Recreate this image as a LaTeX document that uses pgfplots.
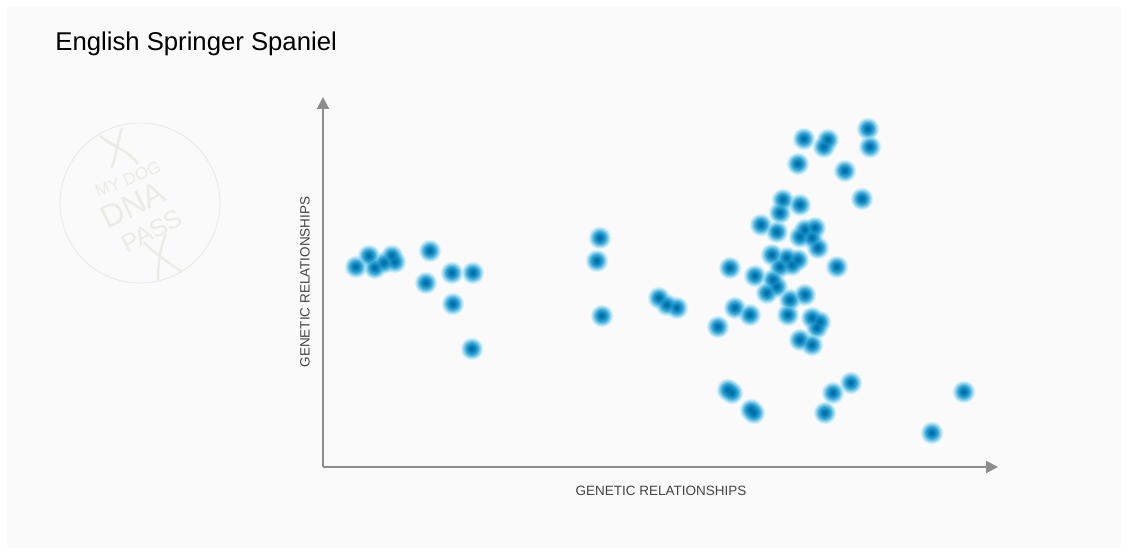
\documentclass[border=0pt]{standalone}
\usepackage{pgfplots}
\pgfplotsset{compat=1.18}
\usepackage{pgfplotstable}
\usepackage{fontspec}
\setmainfont{Liberation Sans}
\usetikzlibrary{arrows.meta}
\definecolor{bgc}{HTML}{FAFAFA}
\definecolor{wm}{HTML}{EBEBE6}
\definecolor{axc}{HTML}{8C8C8C}
\definecolor{lab}{HTML}{444444}
\definecolor{d1}{HTML}{C8ECF8}
\definecolor{d2}{HTML}{A0DCF2}
\definecolor{d3}{HTML}{73C9EA}
\definecolor{d4}{HTML}{45B2DF}
\definecolor{d5}{HTML}{259DD2}
\definecolor{d6}{HTML}{128CC5}
\definecolor{d7}{HTML}{067DB7}
\definecolor{d8}{HTML}{0070A8}
\definecolor{d9}{HTML}{00659A}

\pgfplotstableread{
x y
33 200
46 211
52 199
61 204
69 211
72 205
107 216
103 184
129 194
150 194
130 163
149 118
277 229
274 206
279 151
336 169
344 162
354 159
405 77
409 74
428 57
431 54
502 54
510 74
528 84
609 34
641 75
481 328
505 327
501 320
545 338
547 320
475 303
522 296
539 268
460 267
477 262
457 254
438 242
454 235
482 237
492 239
489 229
477 230
495 219
514 200
407 199
449 212
464 209
475 207
457 200
469 202
432 191
450 187
454 180
444 174
467 167
482 172
412 159
427 152
395 140
465 152
489 149
497 145
494 139
477 127
489 122
}\dots

\pgfdeclareplotmark{fdot}{\pgfpathcircle{\pgfpointorigin}{\pgfplotmarksize}\pgfusepathqfill}
\pgfplotsset{dot/.style n args={3}{only marks, mark=fdot, mark size=#1,
  mark options={solid, fill=#2, fill opacity=#3}}}

\begin{document}
\begin{tikzpicture}
\begin{scope}[x=0.5pt,y=-0.5pt,shift={(0pt,277.5pt)}]
  \fill[white] (0,0) rectangle (1128,555);
  \fill[bgc] (7,7) rectangle (1121,548);
  % watermark
  \draw[wm, line width=0.5pt] (140,203) circle (80);
  \draw[wm, line width=1.2pt] (100,136) .. controls (112,146) and (128,150) .. (138,164);
  \draw[wm, line width=1.2pt] (122,128) .. controls (118,140) and (116,155) .. (112,168);
  \draw[wm, line width=1.2pt] (144,242) .. controls (152,252) and (168,262) .. (182,272);
  \draw[wm, line width=1.2pt] (166,234) .. controls (160,248) and (158,262) .. (158,280);
  \node[wm, rotate=22, inner sep=0pt, font=\fontsize{8.5}{9}\selectfont] at (128,179) {MY DOG};
  \node[wm, rotate=26, inner sep=0pt, font=\fontsize{16}{16}\selectfont] at (133,205) {DNA};
  \node[wm, rotate=28, inner sep=0pt, font=\fontsize{12.5}{13}\selectfont] at (152,231) {PASS};
  % title
  \node[anchor=base west, inner sep=0pt, font=\fontsize{12.85}{13}\selectfont] at (55,51) {English Springer Spaniel};
  % axis labels
  \node[anchor=base, inner sep=0pt, text=lab, font=\fontsize{6.75}{7}\selectfont] at (661,496) {GENETIC RELATIONSHIPS};
  \node[anchor=center, inner sep=0pt, rotate=90, text=lab, font=\fontsize{6.75}{7}\selectfont] at (305,282) {GENETIC RELATIONSHIPS};
\end{scope}
\begin{axis}[at={(161.5pt,44pt)}, anchor=south west, scale only axis,
  width=337.5pt, height=185pt, xmin=0, xmax=675, ymin=0, ymax=370,
  axis lines=none, clip=false]
  \draw[axc, line width=1pt, -{Triangle[length=6pt,width=6pt]}] (axis cs:0,0) -- (axis cs:675,0);
  \draw[axc, line width=1pt, -{Triangle[length=6pt,width=6pt]}] (axis cs:0,0) -- (axis cs:0,370);
  \addplot[dot={5.7pt}{d1}{0.5}] table {\dots};
  \addplot[dot={5.2pt}{d2}{0.5}] table {\dots};
  \addplot[dot={4.7pt}{d3}{0.5}] table {\dots};
  \addplot[dot={4.1pt}{d4}{0.5}] table {\dots};
  \addplot[dot={3.5pt}{d5}{0.55}] table {\dots};
  \addplot[dot={2.9pt}{d6}{0.6}] table {\dots};
  \addplot[dot={2.2pt}{d7}{0.6}] table {\dots};
  \addplot[dot={1.5pt}{d8}{0.6}] table {\dots};
  \addplot[dot={0.8pt}{d9}{0.6}] table {\dots};
\end{axis}
\end{tikzpicture}
\end{document}
